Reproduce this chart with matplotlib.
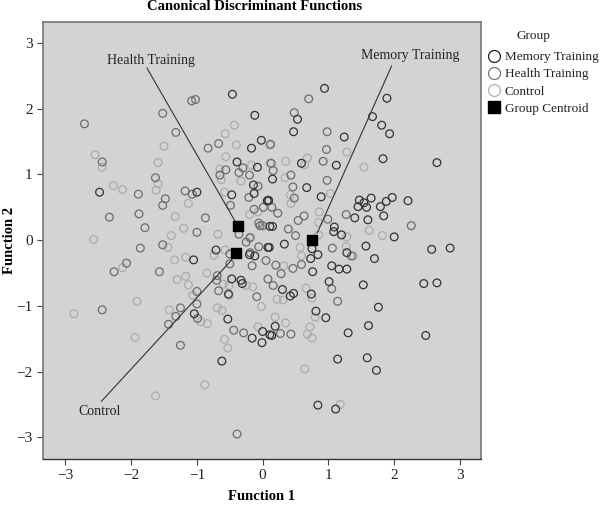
import matplotlib
matplotlib.use("Agg")
import matplotlib.pyplot as plt
from matplotlib.lines import Line2D

plt.rcParams['font.family'] = ['Liberation Serif', 'DejaVu Serif']

# Discriminant scores
memory_x = [-0.46, -0.12, -0.02, -0.17, -0.39, -0.08, -0.14, -0.13, -0.47, -1.00, -2.48, 0.07, 0.11,
            0.94, 1.89, 0.53, 1.67, 1.81, 1.93, 0.47, 1.24, 1.83, 2.65, 0.59, 1.12, 0.15, 0.67, 0.89,
            0.09, 1.47, 1.65, 1.97, 2.21, 1.88, 1.54, 1.45, 1.58, 1.79, 1.84, 1.40, 1.60, 0.15, 1.09,
            1.08, 1.20, 2.00,
            -0.71, -1.05, -0.20, -0.12, 0.08, -0.47, -0.33, -0.31, -0.52, -1.04, -0.53, 0.00, -0.16,
            -0.01, -0.62, 0.11,
            0.10, 0.33, 0.75, 0.84, 0.73, 1.28, 1.57, 1.70, 2.57, 2.85, 1.05, 1.16, 1.28, 0.76, 1.01,
            1.53, 2.45, 2.65, 0.30, 0.47, 0.42, 0.74, 1.76, 0.81, 0.96, 1.61, 0.19, 0.14, 1.30, 2.48,
            1.14, 1.59, 1.73, 0.84, 1.11]
memory_y = [2.22, 1.90, 1.52, 1.40, 1.19, 1.11, 0.84, 0.71, 0.69, 0.73, 0.73, 0.60, 0.21,
            2.31, 2.16, 1.84, 1.88, 1.75, 1.62, 1.65, 1.57, 1.24, 1.18, 1.17, 1.14, 0.93, 0.80, 0.66,
            0.60, 0.61, 0.64, 0.65, 0.60, 0.59, 0.57, 0.51, 0.50, 0.51, 0.37, 0.34, 0.31, 0.21, 0.20,
            0.13, 0.08, 0.05,
            -0.15, -0.30, -0.22, -0.24, -0.11, -0.59, -0.61, -0.66, -0.82, -1.12, -1.20, -1.39, -1.49,
            -1.56, -1.84, -1.44,
            -0.11, -0.06, -0.13, -0.22, -0.28, -0.19, -0.09, -0.28, -0.14, -0.12, -0.39, -0.44, -0.44,
            -0.48, -0.63, -0.68, -0.66, -0.65, -0.75, -0.81, -0.85, -0.82, -1.02, -1.08, -1.18, -1.30,
            -1.31, -1.45, -1.41, -1.45, -1.81, -1.79, -1.98, -2.51, -2.57]

health_x = [-2.71, -1.52, -1.32, -1.08, -1.02, -0.83, -0.67, -2.44, -0.56, -0.36, -0.65, -1.63, -0.20,
            -1.89, -1.48, -1.52, -1.18, -1.07, -0.21, -0.49, -0.13, 0.01, -1.88, -2.33, -0.87, -1.79,
            -1.00, -0.07, -0.06, -0.04, -0.36, -0.19, -0.30,
            0.70, 0.48, 0.98, 0.12, 0.97, 0.13, 0.92, 0.16, 0.43, 0.98, 0.46, 0.48, 0.09, 0.14, 0.23,
            0.63, 0.54, 0.99, 1.27, 0.00, 0.39, 0.50, 2.26,
            -1.86, -1.52, -2.07, -2.26, -1.57, -2.44, -1.25, -1.32, -1.43, -1.00, -1.00, -0.67, -0.70,
            -0.69, -0.50, -0.16, 0.05, 0.08, -0.09, -0.25, -0.19, -0.06, -0.44, -0.29, -1.25, -0.99,
            -0.39, -0.50,
            1.06, 1.35, 0.20, 0.46, 0.59, 0.28, 0.16, 1.05, 1.14, 0.27, 0.43]
health_y = [1.77, 1.93, 1.64, 2.12, 2.14, 1.40, 1.47, 1.19, 1.07, 1.03, 0.99, 0.95, 0.99,
            0.70, 0.63, 0.53, 0.75, 0.70, 0.65, 0.53, 0.47, 0.50, 0.40, 0.35, 0.34, 0.19,
            0.12, 0.82, 0.26, 0.22, 0.09, 0.04, 1.10,
            2.15, 1.94, 1.65, 1.46, 1.38, 1.17, 1.20, 1.06, 0.99, 0.91, 0.81, 0.64, 0.61, 0.50, 0.41,
            0.37, 0.30, 0.32, 0.39, 0.22, 0.17, 0.07, 0.22,
            -0.12, -0.07, -0.35, -0.48, -0.48, -1.06, -1.03, -1.16, -1.28, -0.97, -0.78, -0.77, -0.61,
            -0.54, -0.36, -0.39, -0.31, -0.59, -0.86, -0.03, -0.19, -0.10, -1.37, -1.41, -1.60, -1.19,
            -2.95, -0.21,
            -0.12, -0.24, -0.38, -0.43, -0.37, -0.51, -0.69, -0.74, -0.93, -1.42, -1.43]

control_x = [-0.43, -0.57, -1.50, -0.40, -0.56, -2.55, -2.44, -1.59, -0.17, -0.65, -0.63, -0.33, -1.59,
             -2.27, -2.13, -1.62, -0.58, -1.13, -1.33, -1.20, -1.39, -0.68, -0.20, -0.07, 0.11, 0.11,
             -2.57,
             1.28, 0.68, 0.64, 0.35, 1.54, 0.34, 0.42, 0.43, 1.03, 0.86, 0.85, 1.62, 1.82, 1.28, 0.85,
             -1.44, -1.34, -1.17, -0.74, -0.57, -2.13, -1.17, -1.30, -1.13, -0.85, -0.60, -0.51, -0.25,
             -0.15, -1.06, -0.51, -1.91, -2.87, -1.42, -0.69, -0.62, -0.02, -0.94, -0.84, -0.07, -1.94,
             -0.58, -0.53, -0.88, -1.63, -0.20,
             0.57, 0.59, 1.27, 0.32, 0.66, 0.75, 0.22, 0.31, 0.19, 0.80, 0.35, 0.72, 0.68, 0.75, 0.64,
             1.18, 1.38]
control_y = [1.75, 1.62, 1.43, 1.45, 1.27, 1.30, 1.11, 1.18, 1.14, 1.08, 0.92, 0.90, 0.86,
             0.83, 0.77, 0.76, 0.73, 0.56, 0.36, 0.18, 0.07, 0.09, 0.39, 0.43, 1.45, 1.17,
             0.01,
             1.34, 1.25, 1.15, 1.20, 1.11, 0.95, 0.69, 0.56, 0.71, 0.43, 0.27, 0.15, 0.07, 0.05, 0.08,
             -0.11, -0.30, -0.26, -0.23, -0.15, -0.42, -0.55, -0.60, -0.68, -0.50, -0.67, -0.69, -0.69,
             -0.71, -0.84, -0.84, -0.93, -1.12, -1.06, -1.03, -1.07, -1.01, -1.24, -1.27, -1.32, -1.48,
             -1.51, -1.64, -2.20, -2.37, 0.03,
             -0.11, -0.24, -0.10, -0.39, -0.73, -0.88, -0.90, -0.91, -1.17, -1.17, -1.26, -1.32, -1.43,
             -1.49, -1.96, -2.50, -0.24]

centroid_x = [0.75, -0.37, -0.40]
centroid_y = [0.00, 0.21, -0.19]

ticks = [-3, -2, -1, 0, 1, 2, 3]
tick_labels = ["\u22123", "\u22122", "\u22121", "0", "1", "2", "3"]

memory_color = "#333333"
health_color = "#6c6c6c"
control_color = "#ababab"

fig = plt.figure(figsize=(6, 5.09), dpi=100)
ax = fig.add_axes([43 / 600, 1 - 459 / 509, 438 / 600, 437 / 509], facecolor="#d3d3d5")

for xs, ys, col in [(control_x, control_y, control_color),
                    (health_x, health_y, health_color),
                    (memory_x, memory_y, memory_color)]:
    ax.scatter(xs, ys, s=31, facecolors="none", edgecolors=col, linewidths=0.9, zorder=2)

# Leader lines from the labels down to the centroids
ax.plot([-1.76, -0.42], [2.62, 0.29], color="#333333", lw=0.8, zorder=3)
ax.plot([1.96, 0.83], [2.65, 0.11], color="#333333", lw=0.8, zorder=3)
ax.plot([-2.45, -0.47], [-2.45, -0.30], color="#333333", lw=0.8, zorder=3)

ax.scatter(centroid_x, centroid_y, s=62, marker="s", color="black", zorder=4)

ax.text(-1.70, 2.74, "Health Training", ha="center", va="center", fontsize=10, color="#222222")
ax.text(2.25, 2.81, "Memory Training", ha="center", va="center", fontsize=10, color="#222222")
ax.text(-2.48, -2.60, "Control", ha="center", va="center", fontsize=10, color="#222222")

ax.set_xlim(-3.34, 3.32)
ax.set_ylim(-3.33, 3.32)
ax.set_xticks(ticks)
ax.set_xticklabels(tick_labels)
ax.set_yticks(ticks)
ax.set_yticklabels(tick_labels)
ax.tick_params(labelsize=11, length=4, width=0.8, color="#444444", labelcolor="#222222")

for side in ["left", "top", "right"]:
    ax.spines[side].set_color("#777777")
    ax.spines[side].set_linewidth(1.2)
ax.spines["bottom"].set_color("#333333")
ax.spines["bottom"].set_linewidth(1.0)

fig.text(255 / 600, 1 - 6 / 509, "Canonical Discriminant Functions", ha="center", va="center",
         fontsize=10.5, fontweight="bold")
fig.text(262 / 600, 1 - 496 / 509, "Function 1", ha="center", va="center", fontsize=10.5, fontweight="bold")
fig.text(10 / 600, 1 - 240 / 509, "Function 2", ha="center", va="center", rotation=90,
         fontsize=10.5, fontweight="bold")

handles = [
    Line2D([], [], ls="none", marker="o", ms=8.6, mfc="none", mec="#222222", mew=0.9),
    Line2D([], [], ls="none", marker="o", ms=8.6, mfc="none", mec="#777777", mew=0.9),
    Line2D([], [], ls="none", marker="o", ms=8.6, mfc="none", mec="#b0b0b0", mew=0.9),
    Line2D([], [], ls="none", marker="s", ms=8, color="black"),
]
names = ["Memory Training", "Health Training", "Control", "Group Centroid"]
fig.text(533 / 600, 1 - 36 / 509, "Group", ha="center", va="center", fontsize=9.5, color="#222222")
fig.legend(handles, names, frameon=False, fontsize=9.5, labelcolor="#222222",
           loc="upper left", bbox_to_anchor=(481 / 600, 1 - 47 / 509), labelspacing=0.38,
           handletextpad=0.1, borderpad=0.3, borderaxespad=0, handlelength=1.4)

fig.savefig("out.png", dpi=100)
